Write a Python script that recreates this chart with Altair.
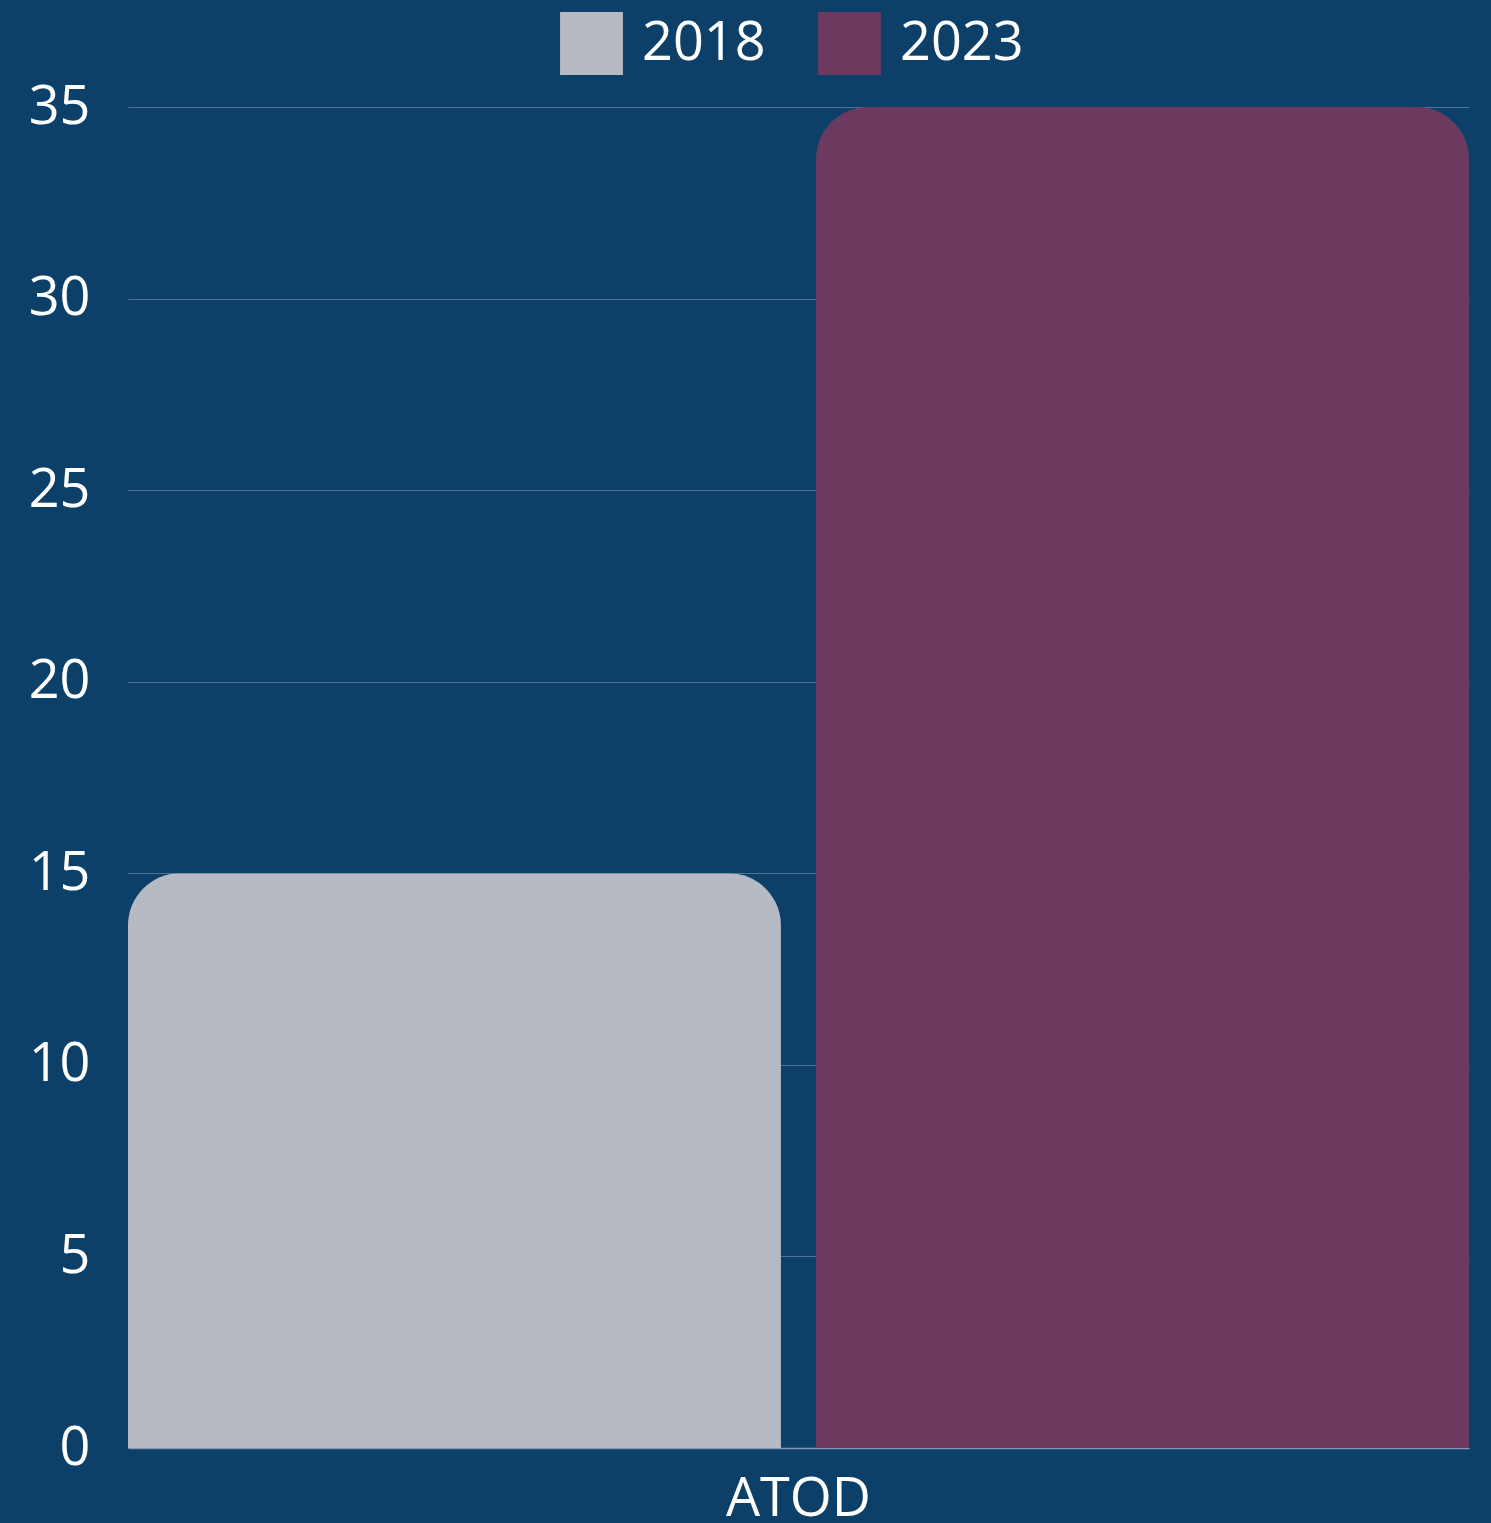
import altair as alt
import pandas as pd
import jinja2

categories = ["ATOD", "ATOD"]
years = ["2018", "2023"]
values = [15, 35]
colors = ["#b6bac3", "#6b3a5e"]

df = pd.DataFrame({"category": categories, "year": years, "value": values})

FONT = "Open Sans"
BG = "#0d4068"
FS = 54

PAGE = jinja2.Template("""<!DOCTYPE html>
<html>
<head>
  <style>
    html, body { margin: 0; padding: 0; background: """ + BG + """; overflow: hidden; }
    #{{ output_div }}.vega-embed { width: 100%; display: flex; }
  </style>
  <script type="text/javascript" src="{{ base_url }}/vega@{{ vega_version }}"></script>
  <script type="text/javascript" src="{{ base_url }}/vega-lite@{{ vegalite_version }}"></script>
  <script type="text/javascript" src="{{ base_url }}/vega-embed@{{ vegaembed_version }}"></script>
</head>
<body>
  <div id="{{ output_div }}"></div>
  <script>
    (function(vegaEmbed) {
      var spec = {{ spec }};
      var embedOpt = {{ embed_options }};
      const el = document.getElementById('{{ output_div }}');
      vegaEmbed("#{{ output_div }}", spec, embedOpt)
        .catch(function(error) { el.innerHTML = '<div style="color:red">' + error + '</div>'; });
    })(vegaEmbed);
  </script>
</body>
</html>
""")

chart = alt.Chart(df).mark_bar(
    cornerRadiusTopLeft=52, cornerRadiusTopRight=52
).encode(
    x=alt.X("category:N", title=None,
            scale=alt.Scale(paddingInner=0, paddingOuter=0),
            axis=alt.Axis(labelAngle=0, labelFontSize=FS, labelColor="#ffffff",
                          labelFont=FONT, ticks=False, domain=True,
                          domainColor="#8796aa", domainWidth=1.5,
                          labelPadding=24)),
    xOffset=alt.XOffset("year:N", scale=alt.Scale(paddingInner=0.051, paddingOuter=0)),
    y=alt.Y("value:Q", title=None,
            scale=alt.Scale(domain=[0, 35], nice=False),
            axis=alt.Axis(values=[0, 5, 10, 15, 20, 25, 30, 35], labelFontSize=FS,
                          labelColor="#ffffff", labelFont=FONT, ticks=False,
                          domain=False, grid=True, gridColor="#4f7394",
                          gridWidth=1.2, labelPadding=38)),
    color=alt.Color("year:N", scale=alt.Scale(domain=years, range=colors),
                    legend=alt.Legend(title=None, orient="none", direction="horizontal",
                                      legendX=432, legendY=-95,
                                      symbolType="square", symbolSize=3950,
                                      symbolStrokeWidth=0, symbolOpacity=1,
                                      labelFontSize=FS, labelColor="#ffffff",
                                      labelFont=FONT, labelOffset=19,
                                      columnPadding=52, padding=0)),
).properties(
    width=1341, height=1341,
    background=BG,
    padding={"left": 128, "top": 107, "right": 18, "bottom": 70},
    autosize=alt.AutoSizeParams(type="none"),
).configure_view(stroke=None)

chart.save("out.html", embed_options={"renderer": "svg", "actions": False}, template=PAGE)
